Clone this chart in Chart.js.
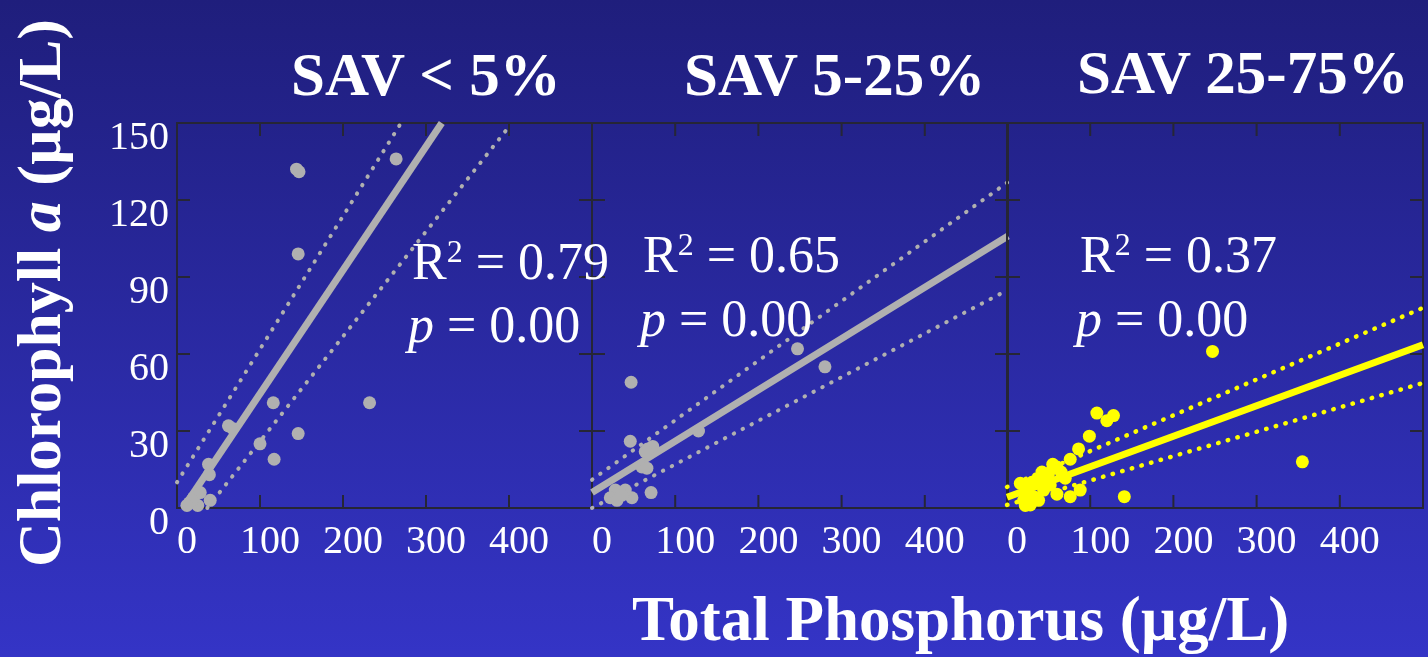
<!DOCTYPE html>
<html>
<head>
<meta charset="utf-8">
<script src="https://cdn.jsdelivr.net/npm/chart.js@4/dist/chart.umd.min.js"></script>
<style>
  html, body { margin: 0; padding: 0; }
  body {
    width: 1428px; height: 657px; overflow: hidden; position: relative;
    background: linear-gradient(to bottom, #1f1e7c, #3434c6);
    font-family: "Liberation Serif", "Times New Roman", serif; color: #fff;
  }
  canvas { position: absolute; }
  .t { position: absolute; white-space: nowrap; }
  .title { font-size: 61px; line-height: 61px; font-weight: bold; }
  .stat { font-size: 52px; line-height: 52px; }
  .stat sup { font-size: 32px; line-height: 0; vertical-align: 17px; }
  .axis { font-size: 63px; line-height: 63px; font-weight: bold; }
  #ytitle { font-size: 62px; line-height: 62px; font-weight: bold; transform-origin: 0 0; transform: rotate(-90deg); }
</style>
</head>
<body>
<canvas id="p1" width="495" height="455" style="left:107px; top:113px"></canvas>
<canvas id="p2" width="496" height="455" style="left:522px; top:113px"></canvas>
<canvas id="p3" width="496" height="455" style="left:937px; top:113px"></canvas>

<div class="t title" style="left:291px; top:44px">SAV &lt; 5%</div>
<div class="t title" style="left:684px; top:44px">SAV 5-25%</div>
<div class="t title" style="left:1077px; top:42px">SAV 25-75%</div>

<div class="t stat" style="left:412px; top:236px">R<sup>2</sup> = 0.79</div>
<div class="t stat" style="left:408px; top:299px"><i>p</i> = 0.00</div>
<div class="t stat" style="left:643px; top:229px">R<sup>2</sup> = 0.65</div>
<div class="t stat" style="left:640px; top:293px"><i>p</i> = 0.00</div>
<div class="t stat" style="left:1080px; top:229px">R<sup>2</sup> = 0.37</div>
<div class="t stat" style="left:1076px; top:293px"><i>p</i> = 0.00</div>

<div class="t axis" style="left:632px; top:588px">Total Phosphorus (µg/L)</div>
<div class="t" id="ytitle" style="left:8px; top:567px">Chlorophyll <i>a</i> (µg/L)</div>

<script>
// SAV < 5%
const lowTP  = [144, 147, 264, 146, 116, 232, 62, 67, 100, 146, 117, 38, 39, 40, 15, 20, 25, 28, 18, 12];
const lowChl = [132, 131, 136, 99, 41, 41, 32, 31, 25, 29, 19, 17, 13, 3, 2, 4, 1, 6, 3, 1];
const lowFitX = [7.6, 319], lowFitY = [0, 150];
const lowUpX  = [0, 268],   lowUpY  = [10, 149];
const lowLoX  = [36.5, 401], lowLoY = [0, 149];

// SAV 5-25%
const midTP  = [47, 247, 280, 46, 67, 73, 64, 128, 60, 66, 71, 48, 40, 28, 22, 30, 36];
const midChl = [49, 62, 55, 26, 23, 24, 22, 30, 16, 15.5, 6, 4, 7, 7, 4, 3, 5];
const midFitX = [0, 500], midFitY = [6, 106];
const midUpX  = [0, 500], midUpY  = [11, 127];
const midLoX  = [0, 500], midLoY  = [0, 85];

// SAV 25-75%
const highTP  = [247, 355, 108, 128, 120, 99, 86, 76, 60, 42, 50, 88, 76, 60, 141, 28, 32, 44, 24, 16, 36, 70, 52, 20, 30, 45, 55, 65, 38, 22];
const highChl = [61, 18, 37, 36, 34, 28, 23, 19, 16, 14, 13.5, 7, 4.4, 5.4, 4.4, 1.2, 4.4, 7, 7, 9.6, 11, 11.6, 9, 3, 10, 12, 17, 14, 3, 1];
const highFitX = [0, 500], highFitY = [4.2, 63.6];
const highUpX  = [0, 500], highUpY  = [8.2, 78];
const highLoX  = [0, 500], highLoY  = [1.2, 48.7];

const xTicks = [0, 100, 200, 300, 400];
const yTicks = [0, 30, 60, 90, 120, 150];

const pairs = (xs, ys) => xs.map((x, i) => ({ x: x, y: ys[i] }));

// box frame with inward ticks on all four sides
const boxTicks = {
  id: 'boxTicks',
  beforeDatasetsDraw(chart) {
    const { ctx, chartArea: a, scales: { x, y } } = chart;
    ctx.save();
    ctx.strokeStyle = '#262636';
    ctx.lineWidth = 2;
    ctx.strokeRect(a.left, a.top, a.right - a.left, a.bottom - a.top);
    ctx.beginPath();
    x.ticks.forEach(t => {
      if (t.value <= 0 || t.value >= 500) return;
      const px = x.getPixelForValue(t.value);
      ctx.moveTo(px, a.bottom); ctx.lineTo(px, a.bottom - 13);
      ctx.moveTo(px, a.top); ctx.lineTo(px, a.top + 13);
    });
    y.ticks.forEach(t => {
      if (t.value <= 0 || t.value >= 150) return;
      const py = y.getPixelForValue(t.value);
      ctx.moveTo(a.left, py); ctx.lineTo(a.left + 13, py);
      ctx.moveTo(a.right, py); ctx.lineTo(a.right - 13, py);
    });
    ctx.stroke();
    ctx.restore();
  }
};

const tickFont = { family: 'Liberation Serif', size: 40 };

function panel(id, pts, fit, up, lo, color, dotW, showY) {
  const dotted = d => ({
    data: d, showLine: true, pointRadius: 0, borderColor: color, borderWidth: dotW,
    borderDash: [0.5, 9.5], borderCapStyle: 'round', tension: 0, clip: false
  });
  return new Chart(document.getElementById(id), {
    type: 'scatter',
    data: {
      datasets: [
        { data: pts, pointRadius: 6.5, pointHoverRadius: 6.5, backgroundColor: color, borderWidth: 0, clip: false },
        { data: fit, showLine: true, pointRadius: 0, borderColor: color, borderWidth: 7, tension: 0, clip: false },
        dotted(up),
        dotted(lo)
      ]
    },
    options: {
      responsive: false,
      animation: false,
      events: [],
      layout: { padding: { top: 10, right: 10, left: 0, bottom: 0 } },
      plugins: { legend: { display: false }, tooltip: { enabled: false } },
      scales: {
        x: {
          type: 'linear', min: 0, max: 500,
          afterFit: s => { s.height = 60; s.paddingLeft = 0; s.paddingRight = 0; },
          afterBuildTicks: s => { s.ticks = xTicks.concat([500]).map(v => ({ value: v })); },
          grid: { display: false, drawTicks: false }, border: { display: false },
          ticks: {
            color: '#fff', font: tickFont, padding: 10, labelOffset: 10,
            maxRotation: 0, autoSkip: false,
            callback: v => xTicks.includes(v) ? String(v) : ''
          }
        },
        y: {
          type: 'linear', min: 0, max: 150,
          afterFit: s => { s.width = 70; s.paddingTop = 0; s.paddingBottom = 0; },
          afterBuildTicks: s => { s.ticks = yTicks.map(v => ({ value: v })); },
          grid: { display: false, drawTicks: false }, border: { display: false },
          ticks: { display: showY, color: '#fff', font: tickFont, padding: 8, labelOffset: 15 }
        }
      }
    },
    plugins: [boxTicks]
  });
}

const gray = '#b0b0b0';
const yellow = '#ffff00';

panel('p1', pairs(lowTP, lowChl), pairs(lowFitX, lowFitY), pairs(lowUpX, lowUpY), pairs(lowLoX, lowLoY), gray, 4, true);
panel('p2', pairs(midTP, midChl), pairs(midFitX, midFitY), pairs(midUpX, midUpY), pairs(midLoX, midLoY), gray, 4, false);
panel('p3', pairs(highTP, highChl), pairs(highFitX, highFitY), pairs(highUpX, highUpY), pairs(highLoX, highLoY), yellow, 4.5, false);
</script>
</body>
</html>
